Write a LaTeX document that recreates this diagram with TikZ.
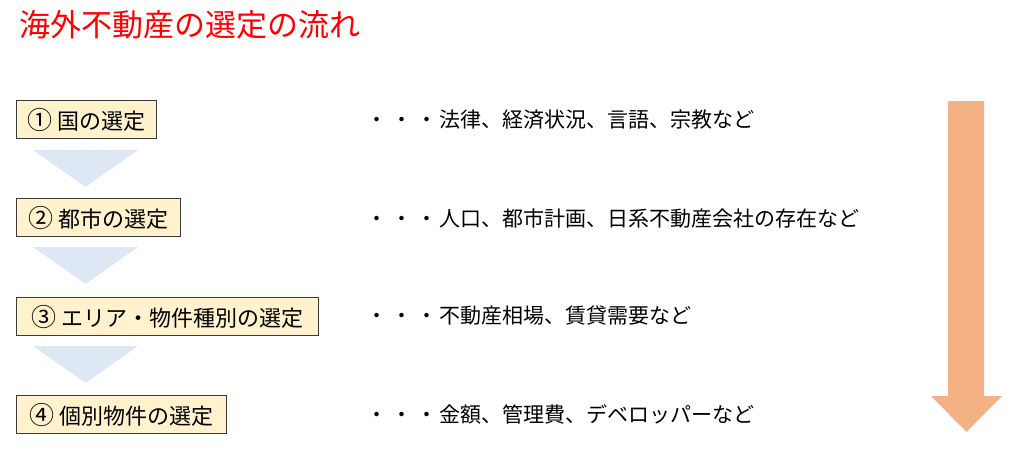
\documentclass[tikz,border=0pt]{standalone}
\usepackage{fontspec}
\newfontfamily\cjk{Noto Sans CJK JP}
\definecolor{boxfill}{HTML}{FFF2CC}
\definecolor{boxline}{HTML}{3A3A3A}
\definecolor{trifill}{HTML}{DEE8F4}
\definecolor{arrowfill}{HTML}{F4B183}
\definecolor{titlered}{HTML}{FF0000}
\tikzset{
  stepbox/.style={draw=boxline, line width=1.3pt, fill=boxfill, minimum height=38pt,
    inner sep=0pt, anchor=north west, font=\cjk\fontsize{22}{26}\selectfont},
  desc/.style={anchor=west, inner sep=0pt, font=\cjk\fontsize{21}{24}\selectfont},
  tri/.style={fill=trifill},
}
\newcommand{\dotsep}{・\hspace{4pt}・\hspace{4pt}・\hspace{2pt}}
\newcommand{\circnum}[1]{{\fontsize{25}{26}\selectfont #1}\hspace{5pt}}
\begin{document}
\begin{tikzpicture}[x=1pt,y=1pt]
\useasboundingbox (0,0) rectangle (1024,-458);
\node[anchor=west, inner sep=0pt, text=titlered, font=\cjk\fontsize{31}{34}\selectfont] (title) at (19,-25) {海外不動産の選定の流れ};

\node[stepbox, minimum width=140pt] (s1) at (16,-100) {\circnum{①}国の選定};
\node[stepbox, minimum width=164pt] (s2) at (16,-198) {\circnum{②}都市の選定};
\node[stepbox, minimum width=302pt] (s3) at (16,-297) {\circnum{③}エリア・物件種別の選定};
\node[stepbox, minimum width=210pt] (s4) at (16,-395) {\circnum{④}個別物件の選定};

\fill[tri] (33,-150) -- (138,-150) -- (85.5,-187) -- cycle;
\fill[tri] (33,-247) -- (138,-247) -- (85.5,-284) -- cycle;
\fill[tri] (33,-346) -- (138,-346) -- (85.5,-383) -- cycle;

\node[desc] (d1) at (366.5,-120) {\dotsep 法律、経済状況、言語、宗教など};
\node[desc] (d2) at (366.5,-219) {\dotsep 人口、都市計画、日系不動産会社の存在など};
\node[desc] (d3) at (366.5,-316) {\dotsep 不動産相場、賃貸需要など};
\node[desc] (d4) at (366.5,-414) {\dotsep 金額、管理費、デベロッパーなど};

\fill[arrowfill] (948,-101) -- (984,-101) -- (984,-396) -- (1002,-396) -- (966.5,-432)
  -- (931,-396) -- (948,-396) -- cycle;
\end{tikzpicture}
\end{document}
